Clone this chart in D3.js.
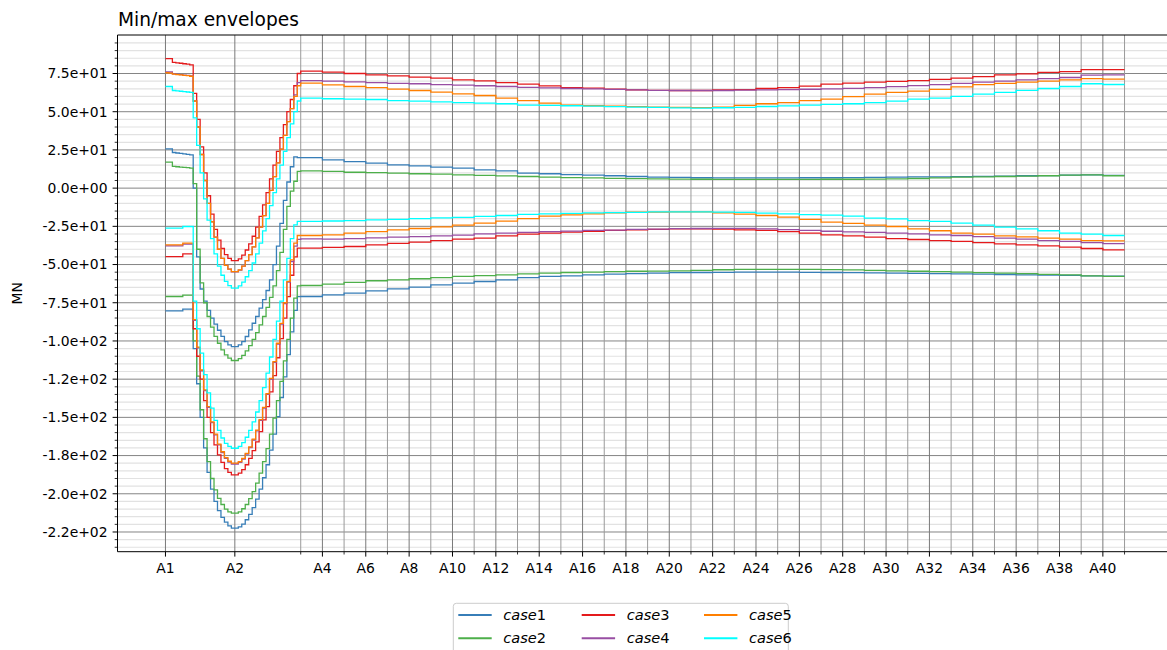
<!DOCTYPE html>
<html><head><meta charset="utf-8">
<script src="https://cdn.jsdelivr.net/npm/d3@7"></script>
<style>body{margin:0;background:#fff} svg{display:block;font-family:"DejaVu Sans",sans-serif}</style>
</head><body><svg id="chart" width="1167" height="650"></svg>
<script>
// ---------- DATA ----------
const nodeLabels = ["A1","A2","A3","A4","A5","A6","A7","A8","A9","A10","A11","A12","A13","A14","A15","A16","A17","A18","A19","A20","A21","A22","A23","A24","A25","A26","A27","A28","A29","A30","A31","A32","A33","A34","A35","A36","A37","A38","A39","A40","A41"];
const xTickLabels = ["A1","A2","","A4","","A6","","A8","","A10","","A12","","A14","","A16","","A18","","A20","","A22","","A24","","A26","","A28","","A30","","A32","","A34","","A36","","A38","","A40",""];
const spanLengths = [32,30.4,10,10,10,10,10,10,10,10,10,10,10,10,10,10,10,10,10,10,10,10,10,10,10,10,10,10,10,10,10,10,10,10,10,10,10,10,10,10];
const spanDivisions = [20,19,1,1,1,1,1,1,1,1,1,1,1,1,1,1,1,1,1,1,1,1,1,1,1,1,1,1,1,1,1,1,1,1,1,1,1,1,1,1];
const yTickValues = [75,50,25,0,-25,-50,-75,-100,-125,-150,-175,-200,-225];
const yTickLabels = ["7.5e+01","5.0e+01","2.5e+01","0.0e+00","-2.5e+01","-5.0e+01","-7.5e+01","-1.0e+02","-1.2e+02","-1.5e+02","-1.8e+02","-2.0e+02","-2.2e+02"];
const caseNames = ["case1","case2","case3","case4","case5","case6"];
const caseColors = ["#377eb8","#4daf4a","#e41a1c","#984ea3","#ff7f00","#00ffff"];

// values per element (A1-A2: 20, A2-A3: 19, A3-A41: 38)
const case1Max = [25.7,25.7,23.3,23.0,22.7,22.4,22.1,21.8,0,-45,-66,-74,-80,-85,-89,-93,-97,-100.4,-102.6,-103.7,
  -103.7,-102.6,-100.4,-97.1,-92.7,-88.4,-84,-78.5,-73,-67,-60,-50,-38,-23,-8,4,14,20.5,20,
  20.0,18.5,17.4,16.4,15.2,14.6,13.7,13.1,12.0,11.3,9.8,9.4,8.9,8.5,8.1,7.6,7.2,7.0,6.8,6.7,6.7,6.7,6.7,6.8,6.8,6.9,7.0,7.2,7.3,7.4,7.5,7.7,7.9,8.1,8.2,8.5,8.7,8.3];
const case1Min = [-80.3,-80.3,-80.3,-80.3,-80.3,-79.2,-79.2,-79.2,-105,-128,-150,-170,-186,-197,-205,-211,-215.5,-218.5,-221,-222.5,
  -222.5,-221.6,-219.8,-217,-213.5,-209,-203.5,-197,-189.5,-181,-171.5,-161,-149.5,-137,-123.5,-109,-94,-80,-71,
  -70.9,-69.8,-68.7,-67.2,-65.9,-64.8,-63.3,-62.2,-61.1,-60.0,-58.5,-57.8,-57.4,-56.7,-56.3,-56.0,-55.6,-55.3,-55.2,-55.1,-55.0,-55.0,-55.0,-55.1,-55.2,-55.3,-55.4,-55.6,-55.8,-56.0,-56.1,-56.3,-56.5,-56.7,-56.9,-57.1,-57.4,-57.6];
const case2Max = [17.0,17.0,14.3,14.0,13.8,13.6,13.4,13.1,3,-40,-62,-75,-84,-91,-97,-101.5,-105.8,-109.1,-111.3,-112.8,
  -112.8,-111.5,-109.5,-106.5,-103,-99,-94.5,-89.5,-84,-78,-71.5,-64,-54,-42,-27,-12,-2,4.5,11,
  11.3,10.9,10.4,10.2,9.8,9.4,9.2,8.7,8.3,8.0,7.6,7.2,6.9,6.7,6.4,6.2,6.0,5.9,5.8,5.7,5.7,5.7,5.7,5.7,5.8,5.8,5.9,6.1,6.3,6.7,7.2,7.4,7.6,7.8,8.1,8.5,8.7,8.1];
const case2Min = [-70.9,-70.9,-70.9,-70.9,-70.9,-70.0,-70.0,-70.0,-100,-123,-145,-164,-179,-190,-197.5,-203,-207,-210,-211.8,-212.7,
  -212.7,-211.8,-209.8,-207,-203.2,-198.6,-193,-186.5,-179,-170.5,-161,-150.5,-139,-126.5,-113,-99,-85,-72,-64,
  -63.7,-62.8,-61.7,-60.6,-60.0,-59.3,-58.5,-57.8,-57.2,-56.7,-56.1,-55.6,-55.2,-54.9,-54.6,-54.4,-54.3,-54.1,-53.8,-53.4,-53.2,-53.1,-53.1,-53.2,-53.3,-53.5,-53.8,-54.1,-54.4,-54.6,-55.0,-55.3,-55.6,-56.0,-56.4,-56.8,-57.4,-57.8];
const case3Max = [84.8,84.8,82.3,82.0,81.7,81.4,81.1,80.7,62,45,27,10,-5,-17,-27,-34,-39.5,-43.5,-46,-47.4,
  -47.4,-46.3,-43.8,-40.5,-36.5,-31.5,-25.5,-18.5,-11,-3,6,15,24,33,41.5,50,58,67,75,
  76.6,75.9,75.0,74.1,73.5,72.6,72.0,70.9,70.2,69.1,68.1,66.9,65.8,65.4,64.8,64.3,64.0,63.9,63.9,64.2,64.5,65.2,65.8,66.7,68.1,68.7,69.4,69.8,70.4,71.1,72.0,73.0,74.1,74.8,75.7,76.3,77.6,77.5];
const case3Min = [-44.8,-44.8,-44.8,-44.8,-44.8,-43.0,-43.0,-43.0,-92,-110,-125,-139,-150,-160,-168,-174.5,-179.5,-183.5,-186,-187.6,
  -187.6,-186.5,-184.2,-181,-176.8,-171.8,-166,-159.3,-151.6,-143,-133.3,-122.7,-111,-98.5,-85,-71,-57,-45,-39.3,
  -39.3,-38.8,-38.2,-37.1,-36.2,-35.3,-34.3,-33.4,-32.7,-31.2,-30.1,-29.5,-28.8,-28.2,-27.7,-27.3,-27.0,-26.6,-26.6,-26.8,-27.3,-27.7,-28.4,-29.5,-30.6,-31.2,-32.1,-33.0,-33.6,-34.3,-34.9,-35.6,-36.5,-37.1,-37.8,-38.6,-39.5,-40.4];
const case4Max = [76.0,76.0,74.8,74.5,74.3,74.0,73.8,73.4,57,40,22,5,-10,-22,-32,-40,-46,-50.5,-53,-54.8,
  -54.8,-53.6,-51,-47.5,-43.5,-38.5,-32.5,-25.5,-18,-10,-1.5,7.5,16.5,25.5,34.5,43.5,52,61,69,
  70.4,70.0,69.5,69.1,68.6,68.3,67.7,67.4,67.0,66.5,65.9,65.6,65.2,64.9,64.6,64.3,64.0,63.9,63.9,63.9,64.1,64.3,64.5,64.7,65.0,65.3,65.8,66.4,67.1,67.7,68.5,69.4,70.0,70.9,71.7,72.4,73.9,74.1];
const case4Min = [-37.8,-37.8,-37.8,-37.8,-37.8,-36.6,-36.6,-36.6,-86.5,-104.5,-119.5,-132.5,-143.5,-153.5,-161.5,-168,-173,-176.8,-179.2,-180.5,
  -180.5,-179.5,-177.3,-174,-169.8,-164.8,-158.8,-152,-144,-135,-125,-114,-102,-89,-75.5,-61.5,-48,-38,-33.5,
  -33.2,-33.4,-33.0,-32.5,-32.1,-31.7,-31.2,-30.8,-29.9,-29.5,-29.0,-28.4,-28.1,-27.7,-27.5,-27.0,-26.8,-26.5,-26.4,-26.3,-26.3,-26.6,-27.1,-27.7,-28.2,-28.6,-29.0,-29.5,-29.9,-30.6,-31.0,-31.7,-32.7,-33.4,-34.3,-34.9,-35.6,-36.3];
const case5Max = [75.5,75.3,74.6,74.3,74.1,73.8,73.6,73.2,57,40,22,5,-10,-22,-32,-40,-46,-50.5,-53,-54.6,
  -54.6,-53.5,-51,-47.5,-43.5,-38.5,-32.5,-25.5,-18,-10,-1.5,7.5,16.5,25.5,34.5,43.5,52,60,67,
  68.7,67.6,66.5,65.7,64.8,63.9,62.8,61.7,60.6,58.9,57.3,55.6,54.3,53.9,53.6,53.3,53.0,52.8,52.7,53.0,54.1,55.2,56.0,57.3,58.2,59.9,61.5,62.7,63.5,64.6,66.2,67.7,68.6,69.4,70.0,70.9,71.7,71.3];
const case5Min = [-37.1,-37.1,-37.1,-37.1,-37.1,-36.0,-36.0,-36.0,-86,-104,-119,-132,-143,-153,-161,-167.5,-172.5,-176.3,-178.7,-180,
  -180,-179,-176.8,-173.5,-169.3,-164.3,-158.3,-151.5,-143.5,-134.5,-124.5,-113.5,-101.5,-88.5,-75,-61,-47,-36,-31,
  -31.0,-30.6,-29.5,-28.4,-27.3,-26.4,-25.3,-24.2,-22.9,-21.6,-19.9,-18.3,-17.5,-16.8,-16.2,-15.7,-15.7,-15.5,-15.5,-16.2,-17.0,-17.9,-19.0,-20.5,-22.2,-23.1,-24.2,-25.1,-26.6,-27.9,-29.5,-30.1,-31.2,-31.9,-32.7,-33.4,-34.3,-34.5];
const case6Max = [66.5,66.5,63.9,63.6,63.4,63.1,62.9,62.6,46,28,10,-7,-21,-33,-43,-51,-57,-61,-63.8,-65.4,
  -65.4,-64,-61.5,-58,-54,-49,-43,-36,-28,-20,-11.5,-3,6,15,24,33,42,50,57,
  58.9,58.5,58.2,58.0,57.3,56.9,56.5,56.0,55.6,55.2,54.3,54.1,53.9,53.6,53.3,53.0,52.8,52.5,52.4,52.6,52.8,53.4,53.8,54.3,54.8,55.2,56.0,56.9,58.2,58.9,60.0,61.5,62.7,64.0,65.2,66.5,68.3,67.8];
const case6Min = [-26.2,-26.2,-26.2,-26.2,-26.2,-25.1,-25.1,-25.1,-74,-92,-108,-122,-134,-144,-152,-158.5,-163.5,-167,-169,-170.2,
  -170.2,-169,-166.5,-163,-158.5,-153,-146.5,-139,-130.5,-121,-110.5,-99,-87,-74,-60,-46,-33,-24,-21.8,
  -21.7,-21.5,-21.2,-20.8,-20.4,-20.0,-19.5,-19.1,-18.5,-17.9,-17.2,-16.8,-16.5,-16.2,-16.0,-15.8,-15.6,-15.5,-15.5,-15.7,-15.8,-16.4,-16.8,-17.3,-17.7,-18.3,-19.6,-20.1,-21.2,-21.8,-22.9,-24.2,-25.5,-26.6,-27.9,-29.5,-30.1,-31.0];

// ---------- LAYOUT ----------
const plot = {left:117.5, right:1172.5, top:35, bottom:551.7};
const svg = d3.select("#chart");
svg.append("rect").attr("width",1167).attr("height",650).attr("fill","#fff");

const nodeX = [0];
spanLengths.forEach((l,i)=>nodeX.push(nodeX[i]+l));
const stations = [0];
spanLengths.forEach((l,i)=>{ const n=spanDivisions[i]; for(let j=1;j<=n;j++) stations.push(nodeX[i]+l*j/n); });

const xMax = nodeX[nodeX.length-1];
const xm = 0.05*xMax;
const x = d3.scaleLinear().domain([-xm, xMax+xm]).range([plot.left, plot.right]);
const y = d3.scaleLinear().domain([-237.9, 100.2]).range([plot.bottom, plot.top]);

svg.append("defs").append("clipPath").attr("id","clip")
  .append("rect").attr("x",plot.left).attr("y",plot.top)
  .attr("width",plot.right-plot.left).attr("height",plot.bottom-plot.top);

const grid = svg.append("g").attr("clip-path","url(#clip)");
const minorY = d3.range(-235, 101, 5).filter(v=>v%25!==0);
grid.selectAll("line.ymin").data(minorY).enter().append("line")
  .attr("x1",plot.left).attr("x2",plot.right)
  .attr("y1",d=>y(d)).attr("y2",d=>y(d))
  .attr("stroke","#e2e2e2").attr("stroke-width",1.2);
grid.selectAll("line.ymaj").data(yTickValues).enter().append("line")
  .attr("x1",plot.left).attr("x2",plot.right)
  .attr("y1",d=>y(d)).attr("y2",d=>y(d))
  .attr("stroke","#858585").attr("stroke-width",1);
grid.selectAll("line.xg").data(nodeX).enter().append("line")
  .attr("y1",plot.top).attr("y2",plot.bottom)
  .attr("x1",d=>x(d)).attr("x2",d=>x(d))
  .attr("stroke",(d,i)=>xTickLabels[i] ? "#7a7a7a" : "#9a9a9a").attr("stroke-width",1);

const series = caseNames.map((n,i)=>({name:n,color:caseColors[i]}));
const vals = {case1:[case1Max,case1Min],case2:[case2Max,case2Min],case3:[case3Max,case3Min],
              case4:[case4Max,case4Min],case5:[case5Max,case5Min],case6:[case6Max,case6Min]};
const line = d3.line().x(d=>x(d[0])).y(d=>y(d[1])).curve(d3.curveStepAfter);
function pts(v){ const p=v.map((d,i)=>[stations[i],d]); p.push([stations[v.length],v[v.length-1]]); return p; }
const lg = svg.append("g").attr("clip-path","url(#clip)");
series.forEach(s=>{
  vals[s.name].forEach(v=>{
    lg.append("path").attr("d",line(pts(v))).attr("fill","none")
      .attr("stroke",s.color).attr("stroke-width",1.3).attr("stroke-linejoin","miter");
  });
});

const ax = svg.append("g").attr("stroke","#000").attr("stroke-width",1);
ax.append("line").attr("x1",plot.left).attr("x2",plot.left).attr("y1",plot.top).attr("y2",plot.bottom);
ax.append("line").attr("x1",plot.left).attr("x2",plot.right).attr("y1",plot.bottom).attr("y2",plot.bottom);
ax.append("line").attr("x1",plot.left).attr("x2",plot.right).attr("y1",plot.top).attr("y2",plot.top);

const yMinorTicks = d3.range(-235, 101, 5).filter(v=>v%25!==0);
svg.append("g").selectAll("line").data(yMinorTicks).enter().append("line")
  .attr("x1",plot.left-2.8).attr("x2",plot.left).attr("y1",d=>y(d)).attr("y2",d=>y(d))
  .attr("stroke","#000").attr("stroke-width",0.8);
const yt = svg.append("g");
yTickValues.forEach((v,i)=>{
  yt.append("line").attr("x1",plot.left-4.9).attr("x2",plot.left).attr("y1",y(v)).attr("y2",y(v))
    .attr("stroke","#000").attr("stroke-width",1);
  yt.append("text").attr("x",plot.left-10).attr("y",y(v)).attr("dy","0.35em")
    .attr("text-anchor","end").attr("font-size",13.9).attr("fill","#000").text(yTickLabels[i]);
});

const xt = svg.append("g");
nodeX.forEach((v,i)=>{
  const major = !!xTickLabels[i];
  xt.append("line").attr("x1",x(v)).attr("x2",x(v)).attr("y1",plot.bottom).attr("y2",plot.bottom+(major?4.9:2.8))
    .attr("stroke","#000").attr("stroke-width",major?1:0.8);
  if(major) xt.append("text").attr("x",x(v)).attr("y",plot.bottom+21.5)
    .attr("text-anchor","middle").attr("font-size",13.9).attr("fill","#000").text(xTickLabels[i]);
});

svg.append("text").attr("x",118).attr("y",26).attr("font-size",18.6).attr("fill","#000").text("Min/max envelopes");
svg.append("text").attr("transform","translate(22,293.4) rotate(-90)").attr("text-anchor","middle")
  .attr("font-size",13.9).attr("fill","#000").text("MN");

const leg = svg.append("g");
leg.append("rect").attr("x",453.3).attr("y",603.3).attr("width",335).attr("height",62).attr("rx",3)
  .attr("fill","#fff").attr("fill-opacity",0.8).attr("stroke","#cccccc").attr("stroke-width",1);
const colX = [458.3, 581.7, 704];
series.forEach((s,i)=>{
  const cx = colX[Math.floor(i/2)], cy = i%2===0 ? 615 : 638.3;
  leg.append("line").attr("x1",cx).attr("x2",cx+33.4).attr("y1",cy).attr("y2",cy)
    .attr("stroke",s.color).attr("stroke-width",2.1);
  const t = leg.append("text").attr("x",cx+45).attr("y",cy).attr("dy","0.35em").attr("font-size",14.6).attr("fill","#000");
  t.append("tspan").attr("font-style","italic").text(s.name.replace(/\d+$/,""));
  t.append("tspan").text(s.name.match(/\d+$/)[0]);
});
</script></body></html>
